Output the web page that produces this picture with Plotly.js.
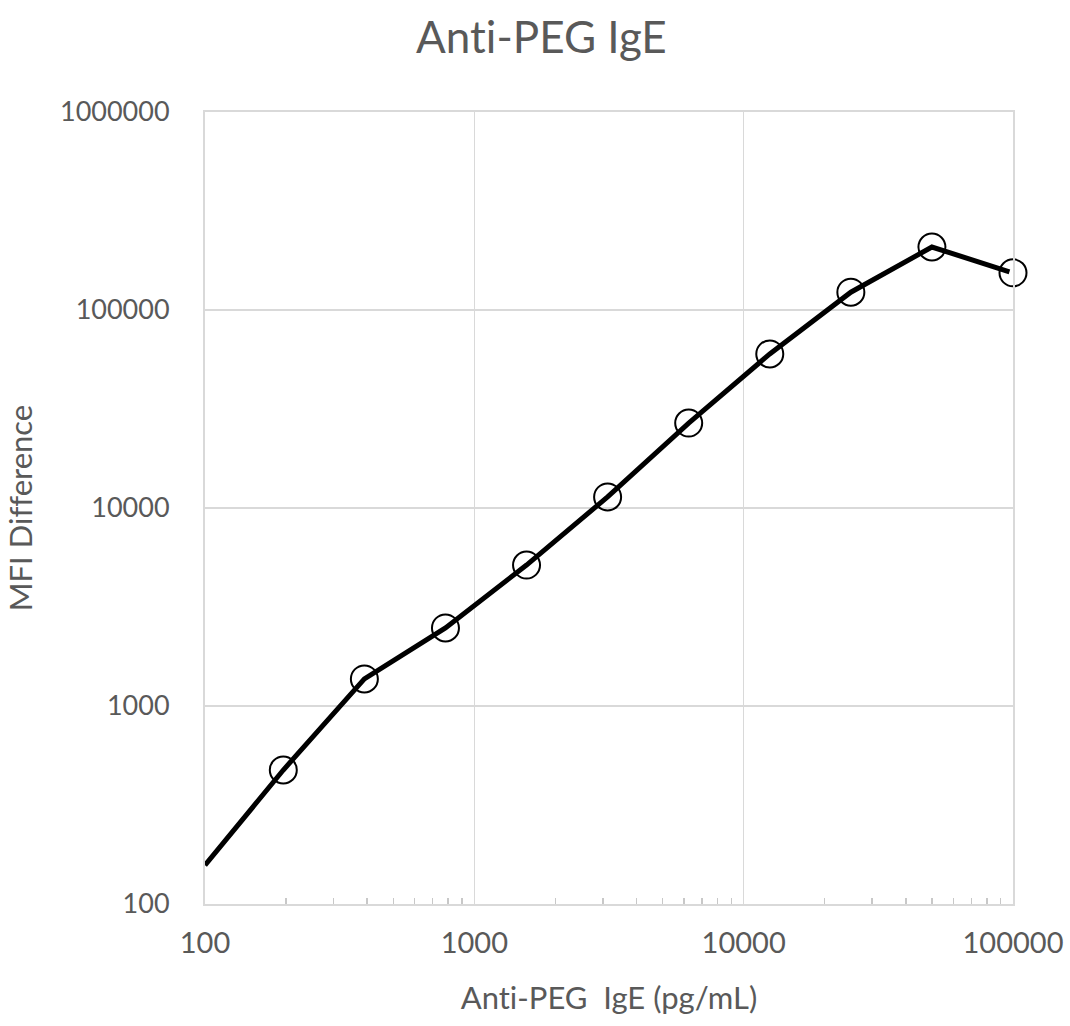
<!DOCTYPE html>
<html>
<head>
<meta charset="utf-8">
<script src="https://cdn.plot.ly/plotly-3.0.1.min.js"></script>
<style>html,body{margin:0;padding:0;background:#fff;}#chart{width:1070px;height:1026px;}text{font-variant-ligatures:none;font-feature-settings:"liga" 0;}</style>
</head>
<body>
<div id="chart"></div>
<script>
// Concentration of anti-PEG IgE (pg/mL), two-fold dilutions
const concentrations = [195.3, 390.6, 781.25, 1562.5, 3125, 6250, 12500, 25000, 50000, 100000];
// Measured MFI difference
const mfiDifference = [475, 1370, 2480, 5150, 11380, 26850, 60000, 123000, 208000, 154000];
// Curve drawn through the points (starts at the axis edge)
const curveX = [100, 195.3, 390.6, 781.25, 1562.5, 3125, 6250, 12500, 25000, 50000, 97000];
const curveY = [157, 475, 1370, 2480, 5150, 11380, 26850, 60000, 123000, 208000, 156000];

const xTickVals = [100, 1000, 10000, 100000];
const xTickText = ['100', '1000', '10000', '100000'];
const yTickVals = [100, 1000, 10000, 100000, 1000000];
const yTickText = ['100', '1000', '10000', '100000', '1000000'];
const xMinorVals = [200,300,400,500,600,700,800,900,2000,3000,4000,5000,6000,7000,8000,9000,20000,30000,40000,50000,60000,70000,80000,90000];

const FONT = 'Lato, "Open Sans", sans-serif';
const GREY = '#595959';
const LINEGREY = '#d9d9d9';

const traces = [
  {
    x: curveX, y: curveY, type: 'scatter', mode: 'lines',
    line: {color: '#000000', width: 5},
    hoverinfo: 'skip', showlegend: false, cliponaxis: true
  },
  {
    x: concentrations, y: mfiDifference, type: 'scatter', mode: 'markers',
    marker: {symbol: 'circle-open', size: 27, color: '#000000', line: {width: 2, color: '#000000'}},
    showlegend: false, cliponaxis: false
  }
];

const layout = {
  width: 1070, height: 1026,
  margin: {l: 205, r: 57, t: 112, b: 122},
  paper_bgcolor: '#ffffff', plot_bgcolor: '#ffffff',
  font: {family: FONT, color: GREY},
  title: {text: 'Anti-PEG IgE', x: 0.506, xanchor: 'center', y: 0.963, yanchor: 'middle',
          font: {family: FONT, size: 44, color: GREY}},
  xaxis: {
    type: 'log', range: [2, 5],
    tickvals: xTickVals, ticktext: xTickText,
    showgrid: true, gridcolor: LINEGREY, gridwidth: 1.5,
    showline: true, linecolor: LINEGREY, linewidth: 2, mirror: true,
    ticks: '', zeroline: false,
    tickfont: {family: FONT, size: 29, color: GREY},
    ticklabelstandoff: 12,
    minor: {ticks: 'inside', ticklen: 6, tickcolor: '#c8c8c8', tickwidth: 1.5, showgrid: false,
            tickvals: xMinorVals},
    title: {text: 'Anti-PEG  IgE (pg/mL)', standoff: 30, font: {family: FONT, size: 31, color: GREY}}
  },
  yaxis: {
    type: 'log', range: [2, 6],
    tickvals: yTickVals, ticktext: yTickText,
    showgrid: true, gridcolor: LINEGREY, gridwidth: 1.5,
    showline: true, linecolor: LINEGREY, linewidth: 2, mirror: true,
    ticks: '', zeroline: false,
    tickfont: {family: FONT, size: 27, color: GREY},
    ticklabelstandoff: 28,
    title: {text: 'MFI Difference', standoff: 18, font: {family: FONT, size: 31, color: GREY}}
  }
};

Plotly.newPlot('chart', traces, layout, {displayModeBar: false, staticPlot: true});
</script>
</body>
</html>
